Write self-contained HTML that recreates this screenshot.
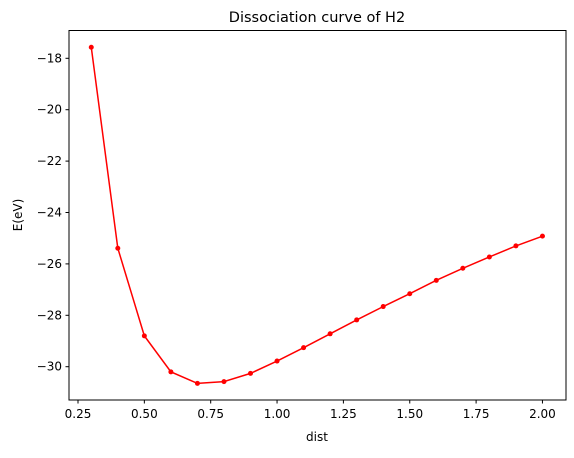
<!DOCTYPE html>
<html><head><meta charset="utf-8"><style>
body{margin:0;background:#fff}
svg text{font-family:"DejaVu Sans","Liberation Sans",sans-serif;fill:#000}
</style></head><body>
<svg width="574" height="453" xmlns="http://www.w3.org/2000/svg">
<rect width="574" height="453" fill="#fff"/>
<text x="317" y="22" font-size="14.5" text-anchor="middle">Dissociation curve of H2</text>
<g id="xt"></g>
<g id="yt"></g>
<text x="317" y="441" font-size="12" text-anchor="middle">dist</text>
<text transform="translate(22,215) rotate(-90)" font-size="12" text-anchor="middle">E(eV)</text>
<g id="plot"></g>
<rect x="69" y="30.5" width="497" height="369.5" fill="none" stroke="#000" stroke-width="1"/>
</svg>
<script>
const dist=[0.3,0.4,0.5,0.6,0.7,0.8,0.9,1.0,1.1,1.2,1.3,1.4,1.5,1.6,1.7,1.8,1.9,2.0];
const energy=[-17.57,-25.39,-28.8,-30.2,-30.65,-30.58,-30.26,-29.78,-29.26,-28.72,-28.18,-27.66,-27.16,-26.64,-26.17,-25.73,-25.3,-24.92];
const xTicks=[0.25,0.5,0.75,1.0,1.25,1.5,1.75,2.0];
const xTickLabels=["0.25","0.50","0.75","1.00","1.25","1.50","1.75","2.00"];
const yTicks=[-18,-20,-22,-24,-26,-28,-30];
const yTickLabels=["\u221218","\u221220","\u221222","\u221224","\u221226","\u221228","\u221230"];
const NS="http://www.w3.org/2000/svg";
const sx=v=>78+(v-0.25)*265.4;
const sy=v=>58.3+(-18-v)*25.7;
function mk(t,a,p){const e=document.createElementNS(NS,t);for(const k in a)e.setAttribute(k,a[k]);p.appendChild(e);return e;}
const xt=document.getElementById('xt'),yt=document.getElementById('yt'),plot=document.getElementById('plot');
xTicks.forEach((v,i)=>{
  const l=mk('line',{x1:sx(v),x2:sx(v),y1:400,y2:403.5,stroke:'#000'},xt);
  
  
  const t=mk('text',{x:sx(v),y:418,'font-size':'12','text-anchor':'middle'},xt);
  t.textContent=xTickLabels[i];
  
  
});
yTicks.forEach((v,i)=>{
  const l=mk('line',{x1:65.5,x2:69,y1:sy(v),y2:sy(v),stroke:'#000'},yt);
  
  
  const t=mk('text',{x:62,y:sy(v)+4,'font-size':'12','text-anchor':'end'},yt);
  t.textContent=yTickLabels[i];
  
  
});
const pl=mk('polyline',{points:dist.map((d,i)=>sx(d)+','+sy(energy[i])).join(' '),fill:'none',stroke:'#f00','stroke-width':'1.5'},plot);


dist.forEach((d,i)=>{
  const c=mk('circle',{cx:sx(d),cy:sy(energy[i]),r:2.5,fill:'#f00'},plot);
  
  
});
</script>
</body></html>
